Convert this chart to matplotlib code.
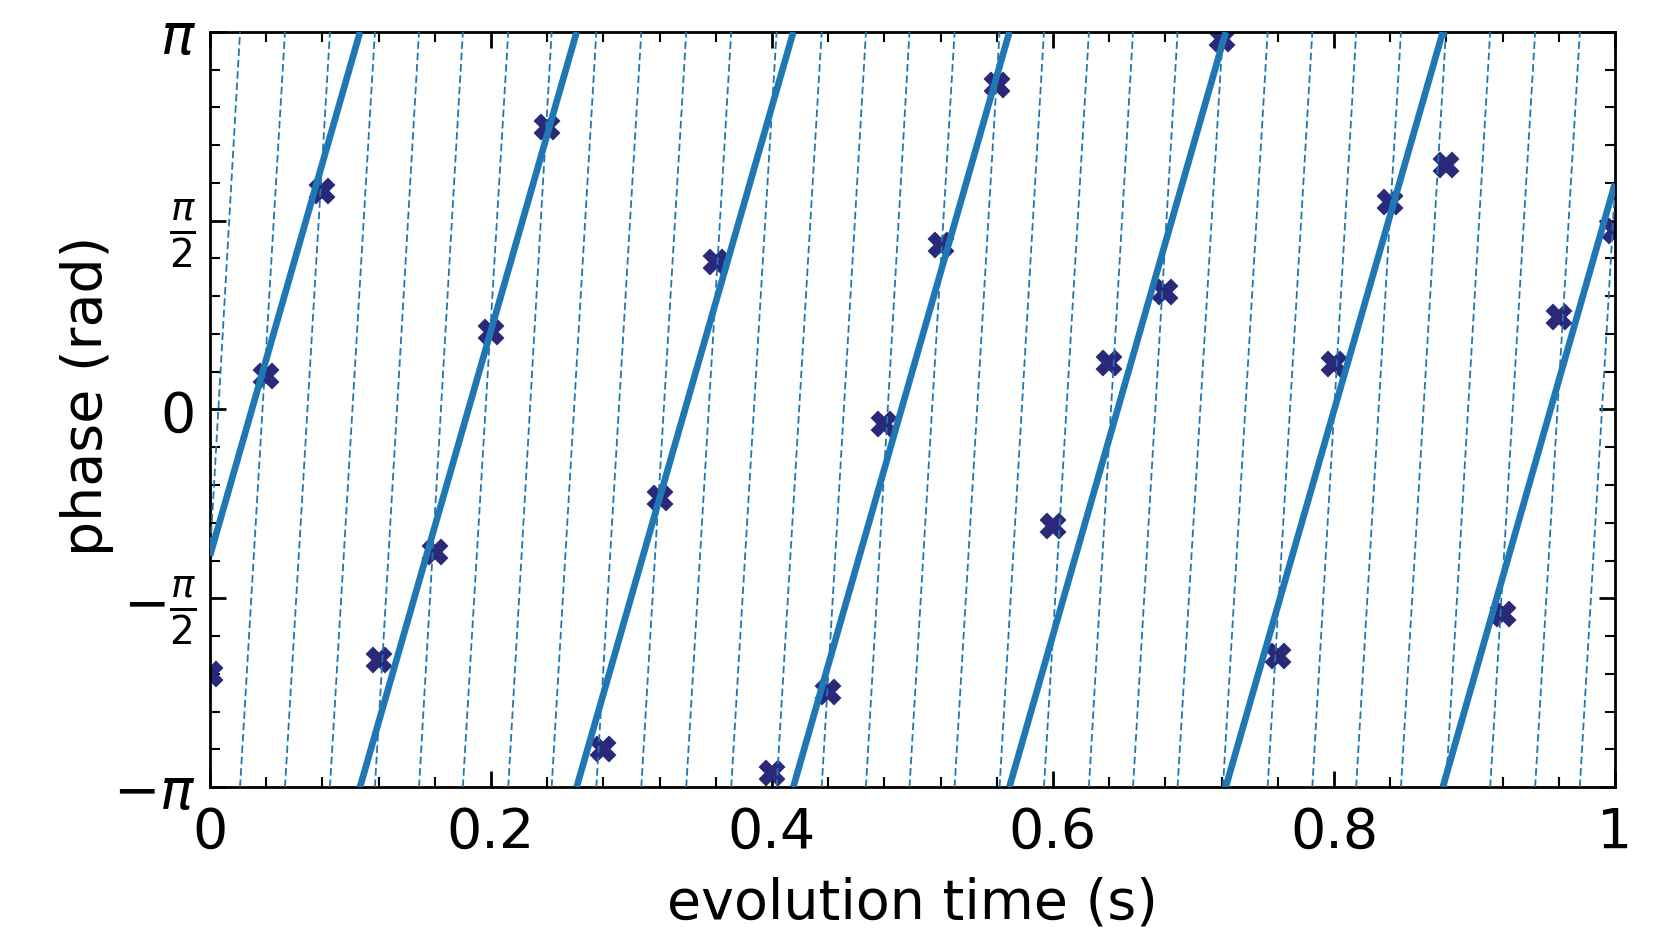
import numpy as np
import matplotlib
matplotlib.use("Agg")
import matplotlib.pyplot as plt
from matplotlib.ticker import MultipleLocator

# ---- data ----
sample_times = [0.00, 0.04, 0.08, 0.12, 0.16, 0.20, 0.24, 0.28, 0.32, 0.36,
                0.40, 0.44, 0.48, 0.52, 0.56, 0.60, 0.64, 0.68, 0.72, 0.76,
                0.80, 0.84, 0.88, 0.92, 0.96, 1.00]
sample_phase = [-2.201, 0.281, 1.821, -2.082, -1.188, 0.642, 2.348, -2.825,
                -0.739, 1.230, -3.025, -2.348, -0.121, 1.369, 2.700, -0.967,
                0.384, 0.975, 3.083, -2.049, 0.379, 1.724, 2.035, -1.702,
                0.767, 1.488]

# solid fit line: times where it wraps from +pi to -pi, plus end values
fit_wrap_times = [0.1068, 0.2610, 0.4152, 0.5690, 0.7230, 0.8775]
fit_start_phase = -1.217
fit_end_phase = 1.88

# dashed (alias) line: wrap times, plus end values
alias_wrap_times = [0.0214, 0.0534, 0.0854, 0.1174, 0.1488, 0.1800, 0.2123,
                    0.2432, 0.2750, 0.3070, 0.3390, 0.3710, 0.4033, 0.4354,
                    0.4669, 0.4979, 0.5300, 0.5620, 0.5936, 0.6256, 0.6570,
                    0.6887, 0.7210, 0.7528, 0.7846, 0.8158, 0.8477, 0.8797,
                    0.9112, 0.9432, 0.9750]
alias_start_phase = -1.217
alias_end_phase = 1.83

t_start, t_end = 0.0, 1.0
xtick_vals = [0, 0.2, 0.4, 0.6, 0.8, 1.0]
xtick_labels = ["0", "0.2", "0.4", "0.6", "0.8", "1"]
ytick_vals = [-np.pi, -np.pi / 2, 0, np.pi / 2, np.pi]
ytick_labels = [r"$-\pi$", r"$-\frac{\pi}{2}$", "0", r"$\frac{\pi}{2}$", r"$\pi$"]


def wrapped_segments(wraps, start_phase, end_phase):
    xs, ys = [], []
    bounds = [t_start] + list(wraps) + [t_end]
    for i in range(len(bounds) - 1):
        y0 = start_phase if i == 0 else -np.pi
        y1 = end_phase if i == len(bounds) - 2 else np.pi
        xs += [bounds[i], bounds[i + 1], np.nan]
        ys += [y0, y1, np.nan]
    return xs, ys


BLUE = "#1f77b4"
NAVY = "#2a2878"
FS = 40

fig = plt.figure(figsize=(16.73, 9.37), dpi=100)
ax = fig.add_axes([0.1255, 0.159, 0.8398, 0.8058])

ax.plot(sample_times, sample_phase, linestyle="none", marker="X",
        markersize=17, color=NAVY, markeredgecolor=NAVY, markeredgewidth=1.5,
        zorder=2)

ax_x, ax_y = wrapped_segments(alias_wrap_times, alias_start_phase, alias_end_phase)
ax.plot(ax_x, ax_y, color=BLUE, linewidth=1.3, linestyle=(0, (4.2, 2.1)), zorder=3)

fx, fy = wrapped_segments(fit_wrap_times, fit_start_phase, fit_end_phase)
ax.plot(fx, fy, color=BLUE, linewidth=4.8, solid_capstyle="butt", zorder=4)

ax.set_xlim(t_start, t_end)
ax.set_ylim(-np.pi, np.pi)
ax.set_xticks(xtick_vals)
ax.set_xticklabels(xtick_labels)
ax.set_yticks(ytick_vals)
ax.set_yticklabels(ytick_labels)
ax.xaxis.set_minor_locator(MultipleLocator(0.04))
ax.yaxis.set_minor_locator(MultipleLocator(np.pi / 10))

ax.tick_params(which="both", direction="in", top=True, right=True)
ax.tick_params(which="major", length=11.5, width=2)
ax.tick_params(which="minor", length=7, width=1.5)
ax.tick_params(axis="x", which="major", labelsize=FS, pad=13)
ax.tick_params(axis="y", which="major", labelsize=FS, pad=10)
for s in ax.spines.values():
    s.set_linewidth(2)

ax.set_xlabel("evolution time (s)", fontsize=FS)
ax.set_ylabel("phase (rad)", fontsize=FS)
ax.xaxis.set_label_coords(0.5, -0.117)
ax.yaxis.set_label_coords(-0.068, 0.52)

fig.savefig("out.png", dpi=100)
